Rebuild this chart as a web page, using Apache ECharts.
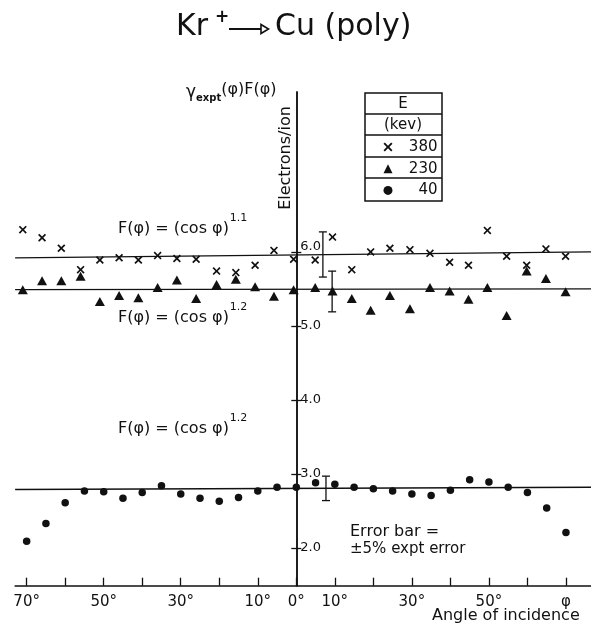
<!DOCTYPE html>
<html>
<head>
<meta charset="utf-8">
<script src="https://cdn.jsdelivr.net/npm/echarts@6/dist/echarts.min.js"></script>
<style>
  html, body { margin: 0; padding: 0; background: #fff; }
  #chart { width: 591px; height: 625px; }
</style>
</head>
<body>
<div id="chart"></div>
<script>
// angles (deg) of the 380 / 230 keV points
const anglesHigh = [-71, -66, -61, -56, -51, -46, -41, -36, -31, -26, -20.7, -15.7, -10.7, -5.8, -0.7,
  4.9, 9.4, 14.4, 19.3, 24.3, 29.5, 34.7, 39.8, 44.7, 49.6, 54.6, 59.8, 64.8, 69.9];
// angles of the 40 keV points
const anglesLow = [-70, -65, -60, -55, -50, -45, -40, -35, -30, -25, -20, -15, -10, -5, 0,
  5, 10, 15, 20, 25, 30, 35, 40, 45, 50, 55, 60, 65, 70];

const kev380 = [6.30, 6.19, 6.05, 5.76, 5.89, 5.92, 5.89, 5.95, 5.91, 5.90, 5.74, 5.72, 5.82, 6.02, 5.90,
  5.89, 6.20, 5.76, 6.00, 6.05, 6.03, 5.98, 5.86, 5.82, 6.29, 5.94, 5.82, 6.04, 5.94];
const kev230 = [5.49, 5.61, 5.61, 5.67, 5.33, 5.41, 5.38, 5.52, 5.62, 5.37, 5.56, 5.63, 5.53, 5.40, 5.49,
  5.52, 5.47, 5.37, 5.21, 5.41, 5.23, 5.52, 5.47, 5.36, 5.52, 5.14, 5.74, 5.64, 5.46];
const kev40 = [2.09, 2.33, 2.61, 2.77, 2.76, 2.67, 2.75, 2.84, 2.73, 2.67, 2.63, 2.68, 2.77, 2.82, 2.82,
  2.88, 2.86, 2.82, 2.80, 2.77, 2.73, 2.71, 2.78, 2.92, 2.89, 2.82, 2.75, 2.54, 2.21];

// fitted F(phi) lines, ends at left / right
const fitX = [-73, 76.5];
const fit380 = [5.92, 6.00];
const fit230 = [5.49, 5.50];
const fit40 = [2.79, 2.82];

// error bars: [angle, low, high]
const errorBars = [[6.9, 5.66, 6.27], [9.3, 5.19, 5.74], [7.7, 2.64, 2.97]];

const xTickValues = [-70, -60, -50, -40, -30, -20, -10, 0, 10, 20, 30, 40, 50, 60, 70];
const xLabelValues = [-70, -50, -30, -10, 0, 10, 30, 50, 70];
const xLabelTexts = ['70°', '50°', '30°', '10°', '0°', '10°', '30°', '50°', 'φ'];
const yTickValues = [2, 3, 4, 5, 6];

const FONT = 'DejaVu Sans';
const INK = '#111';

const crossPath = 'path://M0,1.5L1.5,0L5,3.5L8.5,0L10,1.5L6.5,5L10,8.5L8.5,10L5,6.5L1.5,10L0,8.5L3.5,5Z';

const zip = (xs, ys) => xs.map((x, i) => [x, ys[i]]);

// x range and grid edges; the vertical axis sits at angle 0
const X_MIN = -73, X_MAX = 76.5;
const GRID_LEFT = 15.1;
const zeroShift = -(591 - GRID_LEFT) * (0 - X_MIN) / (X_MAX - X_MIN);

const chart = echarts.init(document.getElementById('chart'));

const yBase = {
  type: 'value',
  min: 1.49,
  max: 8.16,
  position: 'left',
  offset: zeroShift,
  splitLine: { show: false },
  axisLine: { show: true, onZero: false, lineStyle: { color: INK, width: 1.5 } }
};

const fLabel = (top, pow) => ({
  type: 'text', left: 118, top: top,
  style: {
    text: '{m|F(φ) = (cos φ)}{p|' + pow + '}',
    rich: {
      m: { fontSize: 16, fontFamily: FONT, fill: INK, padding: [8, 0, 0, 0] },
      p: { fontSize: 11, fontFamily: FONT, fill: INK, padding: [0, 0, 12, 1] }
    }
  }
});

chart.setOption({
  backgroundColor: '#fff',
  animation: false,
  grid: { left: GRID_LEFT, right: 0, top: 92, bottom: 39.3 },
  xAxis: {
    type: 'value',
    min: X_MIN,
    max: X_MAX,
    splitLine: { show: false },
    axisLine: { onZero: false, lineStyle: { color: INK, width: 1.5 } },
    axisTick: { inside: true, length: 8, customValues: xTickValues, lineStyle: { color: INK, width: 1.3 } },
    axisLabel: {
      customValues: xLabelValues,
      margin: 9,
      color: INK,
      fontFamily: FONT,
      fontSize: 15,
      formatter: v => xLabelTexts[xLabelValues.indexOf(Math.round(v))] || ''
    }
  },
  yAxis: [
    Object.assign({}, yBase, {
      axisTick: { inside: false, length: 5, customValues: yTickValues, lineStyle: { color: INK, width: 1.3 } },
      axisLabel: {
        inside: true,
        customValues: yTickValues,
        margin: 4,
        color: INK,
        fontFamily: FONT,
        fontSize: 13,
        // the 6.0 label sits a little above its tick, clear of the fit line
        formatter: v => (v === 6 ? '{up|' + v.toFixed(1) + '}' : v.toFixed(1)),
        rich: { up: { fontSize: 13, fontFamily: FONT, color: INK, padding: [0, 0, 10, 0] } }
      }
    }),
    Object.assign({}, yBase, {
      axisTick: { inside: true, length: 5, customValues: yTickValues, lineStyle: { color: INK, width: 1.3 } },
      axisLabel: { show: false }
    })
  ],
  legend: {
    orient: 'vertical',
    left: 378.5,
    top: 134.5,
    itemWidth: 9,
    itemHeight: 9,
    itemGap: 6.7,
    data: ['380', '230', '40'],
    formatter: n => '{n|' + n + '}',
    textStyle: {
      color: INK,
      rich: { n: { width: 40, align: 'right', fontSize: 15, fontFamily: FONT, color: INK } }
    }
  },
  series: [
    {
      type: 'line', data: zip(fitX, fit380), symbol: 'none', silent: true,
      lineStyle: { color: INK, width: 1.3 }, clip: false
    },
    {
      type: 'line', data: zip(fitX, fit230), symbol: 'none', silent: true,
      lineStyle: { color: INK, width: 1.3 }, clip: false
    },
    {
      type: 'line', data: zip(fitX, fit40), symbol: 'none', silent: true,
      lineStyle: { color: INK, width: 1.3 }, clip: false
    },
    {
      name: '380', type: 'scatter', data: zip(anglesHigh, kev380),
      symbol: crossPath, symbolSize: 8, itemStyle: { color: INK, opacity: 1 }
    },
    {
      name: '230', type: 'scatter', data: zip(anglesHigh, kev230),
      symbol: 'triangle', symbolSize: [10, 9], itemStyle: { color: INK, opacity: 1 }
    },
    {
      name: '40', type: 'scatter', data: zip(anglesLow, kev40),
      symbol: 'circle', symbolSize: 7.5, itemStyle: { color: INK, opacity: 1 }
    },
    {
      type: 'custom',
      data: errorBars,
      renderItem: (params, api) => {
        const lo = api.coord([api.value(0), api.value(1)]);
        const hi = api.coord([api.value(0), api.value(2)]);
        const w = 4;
        const st = { stroke: INK, lineWidth: 1.3 };
        return {
          type: 'group',
          children: [
            { type: 'line', shape: { x1: lo[0], y1: lo[1], x2: hi[0], y2: hi[1] }, style: st },
            { type: 'line', shape: { x1: lo[0] - w, y1: lo[1], x2: lo[0] + w, y2: lo[1] }, style: st },
            { type: 'line', shape: { x1: hi[0] - w, y1: hi[1], x2: hi[0] + w, y2: hi[1] }, style: st }
          ]
        };
      }
    }
  ],
  graphic: [
    // title  Kr+ --|> Cu(poly)
    { type: 'text', left: 176, top: 12, style: { text: 'Kr', font: '30px "' + FONT + '"', fill: INK } },
    { type: 'text', left: 215, top: 9, style: { text: '+', font: 'bold 17px "' + FONT + '"', fill: INK } },
    { type: 'line', shape: { x1: 229, y1: 29, x2: 261, y2: 29 }, style: { stroke: INK, lineWidth: 2 } },
    { type: 'polygon', shape: { points: [[261, 24.5], [268.5, 29], [261, 33.5]] }, style: { stroke: INK, fill: '#fff', lineWidth: 1.6 } },
    { type: 'text', left: 275, top: 12, style: { text: 'Cu (poly)', font: '30px "' + FONT + '"', fill: INK } },

    // y axis name
    {
      type: 'text', left: 186, top: 82,
      style: {
        text: '{g|γ}{s|expt}{n|(φ)F(φ)}',
        rich: {
          g: { fontSize: 17, fontFamily: FONT, fill: INK, padding: [2, 0, 0, 0] },
          s: { fontSize: 10, fontFamily: FONT, fill: INK, fontWeight: 'bold', padding: [12, 0, 0, 0] },
          n: { fontSize: 16, fontFamily: FONT, fill: INK, padding: [0, 0, 4, 0] }
        }
      }
    },
    {
      type: 'text', x: 286, y: 158, rotation: Math.PI / 2,
      style: { text: 'Electrons/ion', font: '16px "' + FONT + '"', fill: INK, align: 'center', verticalAlign: 'middle' }
    },

    // legend table
    { type: 'rect', shape: { x: 365, y: 93, width: 77, height: 108 }, style: { stroke: INK, fill: 'none', lineWidth: 1.5 } },
    { type: 'line', shape: { x1: 365, y1: 114, x2: 442, y2: 114 }, style: { stroke: INK, lineWidth: 1.3 } },
    { type: 'line', shape: { x1: 365, y1: 135, x2: 442, y2: 135 }, style: { stroke: INK, lineWidth: 1.3 } },
    { type: 'line', shape: { x1: 365, y1: 157, x2: 442, y2: 157 }, style: { stroke: INK, lineWidth: 1.3 } },
    { type: 'line', shape: { x1: 365, y1: 178, x2: 442, y2: 178 }, style: { stroke: INK, lineWidth: 1.3 } },
    { type: 'text', x: 403, y: 104, style: { text: 'E', font: '15px "' + FONT + '"', fill: INK, align: 'center', verticalAlign: 'middle' } },
    { type: 'text', x: 403, y: 125, style: { text: '(kev)', font: '15px "' + FONT + '"', fill: INK, align: 'center', verticalAlign: 'middle' } },

    // F(phi) labels
    fLabel(213, '1.1'),
    fLabel(302, '1.2'),
    fLabel(413, '1.2'),

    // error bar note
    { type: 'text', left: 350, top: 524, style: { text: 'Error bar =', font: '16px "' + FONT + '"', fill: INK } },
    { type: 'text', left: 350, top: 542, style: { text: '±5% expt error', font: '15px "' + FONT + '"', fill: INK } },

    // x axis name
    { type: 'text', left: 432, top: 608, style: { text: 'Angle of incidence', font: '16px "' + FONT + '"', fill: INK } }
  ]
});
</script>
</body>
</html>
